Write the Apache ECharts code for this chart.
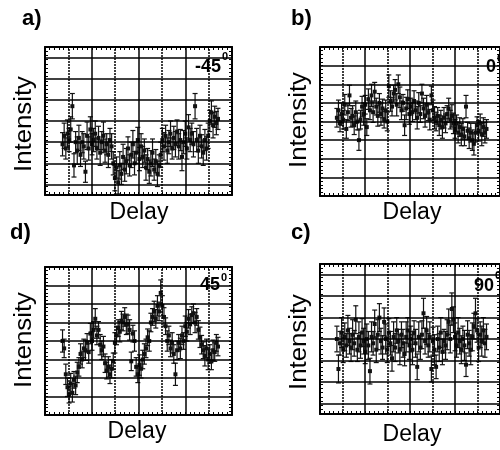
<!DOCTYPE html>
<html>
<head>
<meta charset="utf-8">
<script src="https://cdn.jsdelivr.net/npm/echarts@6/dist/echarts.min.js"></script>
<style>
  html, body { margin: 0; padding: 0; background: #fff; }
  #chart { width: 500px; height: 450px; }
</style>
</head>
<body>
<div id="chart"></div>
<script>
// delay steps shared by the four scans (axis units, frame = 0..8)
var delay = [
  0.75, 0.82, 0.89, 0.96, 1.03, 1.10, 1.17, 1.24, 1.31, 1.38,
  1.45, 1.52, 1.59, 1.66, 1.73, 1.80, 1.87, 1.94, 2.01, 2.08,
  2.15, 2.22, 2.29, 2.36, 2.43, 2.50, 2.57, 2.64, 2.71, 2.78,
  2.85, 2.92, 2.99, 3.06, 3.13, 3.20, 3.27, 3.34, 3.41, 3.48,
  3.55, 3.62, 3.69, 3.76, 3.83, 3.90, 3.97, 4.04, 4.11, 4.18,
  4.25, 4.32, 4.39, 4.46, 4.53, 4.60, 4.67, 4.74, 4.81, 4.88,
  4.95, 5.02, 5.09, 5.16, 5.23, 5.30, 5.37, 5.44, 5.51, 5.58,
  5.65, 5.72, 5.79, 5.86, 5.93, 6.00, 6.07, 6.14, 6.21, 6.28,
  6.35, 6.42, 6.49, 6.56, 6.63, 6.70, 6.77, 6.84, 6.91, 6.98,
  7.05, 7.12, 7.19, 7.26, 7.33, 7.40
];

// a) -45 deg
var intensityA = [
  2.4, 2.8, 2.2, 2.9, 2.6, 3.1, 4.2, 1.4, 2.5, 2.1,
  2.7, 1.9, 2.5, 2.3, 1.1, 2.8, 2.2, 3.1, 2.4, 2.6,
  2.9, 2.2, 2.7, 2.0, 2.5, 2.8, 2.1, 2.4, 1.9, 2.6,
  2.3, 1.5, 0.8, 1.3, 0.6, 1.4, 1.0, 1.8, 1.2, 1.6,
  2.2, 1.4, 1.9, 2.4, 1.5, 2.0, 2.6, 1.7, 2.3, 1.8,
  2.1, 1.3, 1.7, 1.1, 1.5, 2.0, 1.2, 1.6, 1.0, 1.4,
  1.9, 2.6, 2.3, 2.8, 2.1, 2.5, 2.9, 2.2, 2.7, 2.4,
  3.0, 2.3, 2.6, 1.8, 2.5, 2.9, 2.2, 3.2, 2.6, 2.9,
  2.4, 4.2, 2.6, 2.1, 2.8, 2.3, 2.0, 2.6, 2.2, 2.8,
  3.5, 3.9, 3.3, 3.7, 3.4, 3.6
];
var errA = [
  0.55, 0.6, 0.5, 0.65, 0.55, 0.6, 0.6, 0.55, 0.5, 0.65,
  0.6, 0.55, 0.5, 0.6, 0.5, 0.65, 0.55, 0.6, 0.5, 0.55,
  0.6, 0.5, 0.55, 0.6, 0.5, 0.65, 0.55, 0.5, 0.6, 0.55,
  0.6, 0.55, 0.6, 0.5, 0.55, 0.65, 0.5, 0.6, 0.55, 0.6,
  0.55, 0.5, 0.6, 0.65, 0.55, 0.5, 0.6, 0.55, 0.6, 0.5,
  0.55, 0.6, 0.5, 0.55, 0.6, 0.65, 0.5, 0.55, 0.6, 0.5,
  0.6, 0.55, 0.65, 0.5, 0.6, 0.55, 0.6, 0.5, 0.55, 0.6,
  0.55, 0.6, 0.5, 0.65, 0.55, 0.6, 0.5, 0.6, 0.55, 0.5,
  0.6, 0.6, 0.55, 0.6, 0.5, 0.55, 0.6, 0.5, 0.55, 0.6,
  0.5, 0.55, 0.6, 0.5, 0.55, 0.5
];

// b) 0 deg
var intensityB = [
  4.2, 4.6, 3.9, 4.4, 4.1, 4.9, 3.6, 4.5, 5.4, 4.2,
  4.3, 3.8, 4.5, 4.0, 3.0, 4.1, 4.8, 4.4, 4.9, 3.7,
  5.2, 4.6, 5.4, 4.5, 5.6, 4.8, 4.3, 5.0, 4.4, 4.7,
  4.1, 4.6, 4.0, 5.9, 5.1, 4.8, 5.5, 5.7, 4.9, 6.0,
  5.3, 4.6, 5.0, 3.8, 4.7, 5.2, 4.4, 4.8, 4.5, 5.1,
  4.6, 4.2, 5.0, 4.4, 5.5, 4.7, 4.3, 4.9, 4.5, 4.1,
  5.4, 4.6, 4.2, 4.0, 4.3, 3.8, 4.1, 3.7, 4.2, 3.9,
  4.4, 4.7, 4.1, 4.3, 3.9, 3.6, 3.9, 3.4, 3.7, 3.3,
  3.6, 3.2, 4.8, 3.5, 3.1, 3.4, 3.0, 2.8, 3.4, 3.8,
  3.5, 3.9, 3.3, 3.7, 3.4, 3.6
];
var errB = [
  0.5, 0.55, 0.45, 0.6, 0.5, 0.55, 0.5, 0.45, 0.55, 0.5,
  0.55, 0.5, 0.6, 0.45, 0.55, 0.5, 0.55, 0.6, 0.5, 0.45,
  0.55, 0.5, 0.6, 0.55, 0.5, 0.45, 0.55, 0.5, 0.6, 0.5,
  0.45, 0.55, 0.5, 0.6, 0.55, 0.5, 0.45, 0.55, 0.6, 0.5,
  0.55, 0.5, 0.45, 0.55, 0.6, 0.5, 0.55, 0.45, 0.5, 0.55,
  0.5, 0.6, 0.55, 0.45, 0.5, 0.55, 0.6, 0.5, 0.45, 0.55,
  0.5, 0.55, 0.6, 0.5, 0.45, 0.55, 0.5, 0.6, 0.55, 0.5,
  0.45, 0.55, 0.5, 0.6, 0.55, 0.5, 0.45, 0.55, 0.5, 0.6,
  0.55, 0.5, 0.6, 0.45, 0.55, 0.5, 0.55, 0.6, 0.5, 0.45,
  0.55, 0.5, 0.6, 0.5, 0.55, 0.5
];

// d) 45 deg
var intensityD = [
  4.0, 3.6, 2.2, 1.5, 1.1, 1.7, 1.2, 1.9, 1.6, 2.3,
  2.6, 3.3, 3.0, 3.6, 3.5, 3.9, 3.4, 4.4, 4.0, 4.6,
  5.2, 4.3, 4.6, 3.8, 3.5, 3.7, 2.8, 2.4, 2.6, 2.2,
  2.5, 2.9, 3.9, 4.3, 4.7, 4.5, 5.1, 5.0, 5.3, 4.9,
  4.9, 4.6, 2.9, 4.4, 4.0, 2.6, 2.2, 2.7, 2.5, 3.0,
  3.3, 3.6, 4.2, 4.0, 5.0, 5.3, 5.6, 5.2, 5.9, 5.6,
  6.6, 5.9, 5.3, 4.8, 4.0, 4.3, 3.6, 3.9, 3.3, 2.2,
  3.5, 3.9, 3.6, 4.3, 4.0, 4.8, 4.5, 5.2, 4.9, 5.4,
  5.5, 5.0, 5.3, 4.6, 4.2, 3.8, 3.5, 3.2, 3.6, 3.0,
  3.3, 2.9, 3.5, 3.4, 3.9, 3.7
];
var errD = [
  0.6, 0.5, 0.55, 0.5, 0.45, 0.55, 0.5, 0.45, 0.5, 0.55,
  0.5, 0.55, 0.45, 0.5, 0.55, 0.5, 0.6, 0.55, 0.5, 0.45,
  0.55, 0.5, 0.45, 0.55, 0.5, 0.55, 0.5, 0.45, 0.55, 0.5,
  0.5, 0.45, 0.55, 0.5, 0.45, 0.55, 0.5, 0.45, 0.5, 0.55,
  0.5, 0.55, 0.5, 0.45, 0.55, 0.5, 0.45, 0.55, 0.5, 0.5,
  0.55, 0.5, 0.45, 0.55, 0.5, 0.45, 0.55, 0.5, 0.55, 0.5,
  0.7, 0.55, 0.5, 0.45, 0.55, 0.5, 0.45, 0.55, 0.5, 0.6,
  0.5, 0.45, 0.55, 0.5, 0.45, 0.55, 0.5, 0.5, 0.55, 0.45,
  0.5, 0.55, 0.45, 0.5, 0.55, 0.5, 0.45, 0.55, 0.5, 0.55,
  0.5, 0.45, 0.55, 0.5, 0.45, 0.5
];

// c) 90 deg
var intensityC = [
  3.5, 2.1, 3.3, 3.8, 3.0, 3.6, 3.2, 3.9, 3.4, 3.1,
  3.7, 3.3, 4.4, 3.0, 3.6, 3.2, 3.8, 3.4, 2.9, 3.5,
  3.2, 2.0, 3.6, 3.3, 4.2, 3.0, 3.7, 4.5, 3.4, 3.1,
  4.3, 3.5, 3.0, 3.8, 3.3, 2.6, 3.6, 3.1, 3.9, 3.4,
  3.0, 3.7, 3.3, 2.8, 3.6, 3.9, 3.2, 3.5, 3.0, 3.8,
  3.3, 2.2, 3.6, 3.1, 3.7, 4.7, 3.4, 3.9, 3.2, 3.6,
  2.1, 3.4, 3.0, 2.2, 3.5, 3.1, 3.8, 2.9, 3.4, 3.2,
  3.7, 4.3, 3.5, 4.9, 4.4, 3.6, 3.2, 3.8, 3.4, 3.0,
  3.5, 3.2, 2.3, 3.7, 3.3, 3.0, 3.6, 4.1, 4.7, 3.9,
  3.1, 3.7, 3.4, 3.9, 3.3, 3.6
];
var errC = [
  0.6, 0.65, 0.55, 0.7, 0.6, 0.65, 0.55, 0.7, 0.6, 0.65,
  0.7, 0.6, 0.65, 0.55, 0.7, 0.6, 0.65, 0.6, 0.55, 0.7,
  0.65, 0.6, 0.7, 0.55, 0.65, 0.6, 0.7, 0.65, 0.6, 0.55,
  0.65, 0.7, 0.6, 0.65, 0.55, 0.6, 0.7, 0.65, 0.6, 0.55,
  0.7, 0.6, 0.65, 0.55, 0.7, 0.6, 0.65, 0.6, 0.7, 0.55,
  0.65, 0.6, 0.7, 0.55, 0.65, 0.7, 0.6, 0.65, 0.55, 0.7,
  0.6, 0.65, 0.7, 0.55, 0.6, 0.65, 0.7, 0.6, 0.55, 0.65,
  0.7, 0.6, 0.65, 0.75, 0.6, 0.65, 0.55, 0.7, 0.6, 0.65,
  0.6, 0.7, 0.55, 0.65, 0.6, 0.7, 0.65, 0.6, 0.7, 0.55,
  0.65, 0.6, 0.7, 0.6, 0.65, 0.6
];

// grid lines drawn inside the frames
var solidX = [2, 4, 6];
var dottedX = [1, 3, 5, 7];
var rowsAC = [0.5, 1.5, 2.5, 3.5, 4.5, 5.5, 6.5];
var rowsBD = [1, 2, 3, 4, 5, 6, 7];

var FONT = '"Liberation Sans", Arial, Helvetica, sans-serif';

var panels = [
  { rect: {left: 45, top: 47, width: 187, height: 148}, yMax: 7, rows: rowsAC, y: intensityA, e: errA },
  { rect: {left: 320, top: 47, width: 187, height: 149}, yMax: 8, rows: rowsBD, y: intensityB, e: errB },
  { rect: {left: 45, top: 267, width: 187, height: 148}, yMax: 8, rows: rowsBD, y: intensityD, e: errD },
  { rect: {left: 320, top: 264, width: 187, height: 150}, yMax: 7, rows: rowsAC, y: intensityC, e: errC }
];

function frameAxis(gi, pos, max) {
  return {
    type: 'value', gridIndex: gi, position: pos,
    min: 0, max: max, interval: 1,
    axisLine: {show: true, onZero: false, lineStyle: {color: '#000', width: 2}},
    axisTick: {show: true, inside: true, length: 3, lineStyle: {color: '#000', width: 1}},
    minorTick: {show: true, splitNumber: 5, length: 3, lineStyle: {color: '#000', width: 1}},
    axisLabel: {show: false},
    splitLine: {show: false}
  };
}

function renderBar(params, api) {
  var x = api.value(0), y = api.value(1), e = api.value(2);
  var hi = api.coord([x, y + e]);
  var lo = api.coord([x, y - e]);
  var c = api.coord([x, y]);
  var st = {stroke: '#111', lineWidth: 1.2};
  return {
    type: 'group',
    children: [
      {type: 'line', shape: {x1: hi[0], y1: hi[1], x2: lo[0], y2: lo[1]}, style: st},
      {type: 'line', shape: {x1: hi[0] - 2.5, y1: hi[1], x2: hi[0] + 2.5, y2: hi[1]}, style: st},
      {type: 'line', shape: {x1: lo[0] - 2.5, y1: lo[1], x2: lo[0] + 2.5, y2: lo[1]}, style: st},
      {type: 'rect', shape: {x: c[0] - 2, y: c[1] - 2, width: 4, height: 4}, style: {fill: '#111'}}
    ]
  };
}

var grids = [], xAxes = [], yAxes = [], series = [];
panels.forEach(function (p, gi) {
  grids.push(Object.assign({containLabel: false}, p.rect));
  xAxes.push(frameAxis(gi, 'bottom', 8));
  xAxes.push(frameAxis(gi, 'top', 8));
  yAxes.push(frameAxis(gi, 'left', p.yMax));
  yAxes.push(frameAxis(gi, 'right', p.yMax));

  var lines = [];
  solidX.forEach(function (v) {
    lines.push({xAxis: v, lineStyle: {type: 'solid', color: '#000', width: 1.5}});
  });
  dottedX.forEach(function (v) {
    lines.push({xAxis: v, lineStyle: {type: [2, 1], color: '#000', width: 1.5}});
  });
  p.rows.forEach(function (v) {
    lines.push({yAxis: v, lineStyle: {type: 'solid', color: '#000', width: 1.5}});
  });
  series.push({
    type: 'line', xAxisIndex: gi * 2, yAxisIndex: gi * 2, data: [], z: 1, silent: true,
    markLine: {
      silent: true, animation: false, symbol: ['none', 'none'],
      label: {show: false}, emphasis: {disabled: true},
      data: lines
    }
  });
  series.push({
    type: 'custom', xAxisIndex: gi * 2, yAxisIndex: gi * 2, z: 3, silent: true,
    renderItem: renderBar,
    data: delay.map(function (d, i) { return [d, p.y[i], p.e[i]]; })
  });
});

function txt(s, x, y, size, opts) {
  opts = opts || {};
  var align = opts.align || 'center';
  var el = {
    type: 'text', x: x, y: y, z: 10, silent: true,
    style: {
      text: s, fill: '#000',
      font: (opts.bold ? 'bold ' : '') + size + 'px ' + FONT,
      align: align, textAlign: align,
      verticalAlign: 'middle', textVerticalAlign: 'middle'
    }
  };
  if (opts.rotate) { el.rotation = Math.PI / 2; el.scaleX = 1.12; }
  return el;
}

var texts = [
  txt('a)', 22, 19, 22, {bold: true, align: 'left'}),
  txt('b)', 291, 19, 22, {bold: true, align: 'left'}),
  txt('d)', 10, 233, 22, {bold: true, align: 'left'}),
  txt('c)', 291, 233, 22, {bold: true, align: 'left'}),

  txt('Intensity', 24.5, 124, 23, {rotate: true}),
  txt('Intensity', 299.5, 120, 23, {rotate: true}),
  txt('Intensity', 24.5, 340, 23, {rotate: true}),
  txt('Intensity', 299.5, 342, 23, {rotate: true}),

  txt('Delay', 139, 213, 23),
  txt('Delay', 412, 213, 23),
  txt('Delay', 137, 432, 23),
  txt('Delay', 412, 435, 23),

  txt('-45', 221, 67, 18, {bold: true, align: 'right'}),
  txt('0', 222, 57, 11, {bold: true, align: 'left'}),
  txt('0', 496, 67.5, 18, {bold: true, align: 'right'}),
  txt('0', 497, 59, 11, {bold: true, align: 'left'}),
  txt('45', 220, 285, 18, {bold: true, align: 'right'}),
  txt('0', 221, 278, 11, {bold: true, align: 'left'}),
  txt('90', 494, 286.5, 18, {bold: true, align: 'right'}),
  txt('0', 495, 276, 11, {bold: true, align: 'left'})
];

var chart = echarts.init(document.getElementById('chart'), null, {renderer: 'canvas'});
chart.setOption({
  animation: false,
  backgroundColor: '#fff',
  grid: grids,
  xAxis: xAxes,
  yAxis: yAxes,
  series: series,
  graphic: texts
});
</script>
</body>
</html>
